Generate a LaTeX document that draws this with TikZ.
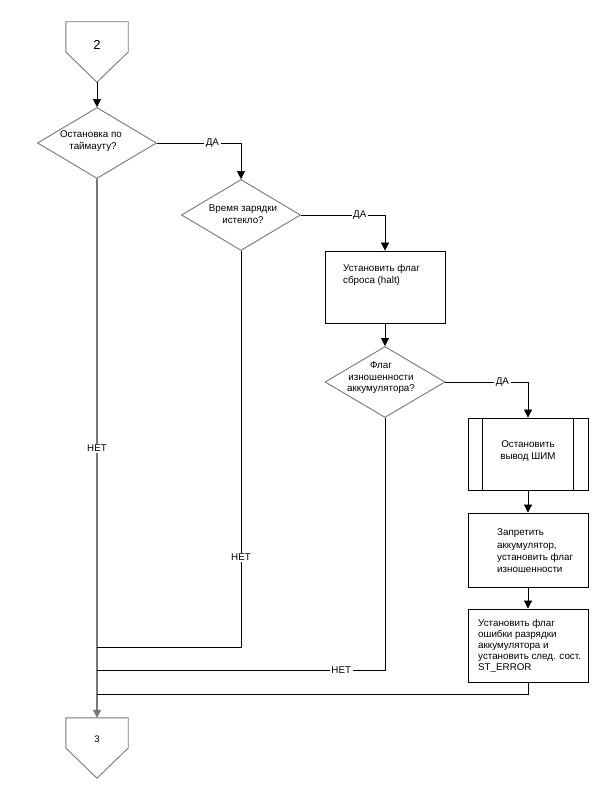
\documentclass[tikz,border=0pt]{standalone}
\usepackage{fontspec}
\setmainfont{Liberation Sans}
\usetikzlibrary{arrows.meta,calc,shapes.geometric}
\begin{document}
\begin{tikzpicture}[x=1pt,y=-1pt,
  every node/.style={font=\fontsize{9.8}{11.5}\selectfont, inner sep=0pt},
  lgray/.style={draw={rgb,255:red,120;green,120;blue,120}, line width=0.9pt},
  dec/.style={shape=diamond, lgray, minimum width=119pt, minimum height=71pt, inner sep=0pt},
  procbox/.style={shape=rectangle, draw=black, line width=0.8pt, minimum width=120pt},
  conn/.style={shape=rectangle, minimum width=62pt, minimum height=60pt},
  txt/.style={align=left},
  ctxt/.style={align=center},
  lbl/.style={fill=white, inner sep=1.5pt},
  line/.style={draw=black, line width=0.7pt},
  mainline/.style={draw={rgb,255:red,120;green,120;blue,120}, line width=1.1pt},
  arr/.style={-{Triangle[length=8pt,width=8pt]}}
]
\useasboundingbox (0,0) rectangle (600,786);
\fill[white] (0,0) rectangle (600,786);

% off-page connectors
\node[conn] (c2) at (97,52) {};
\draw[lgray] (c2.north west) -- (c2.north east) -- (c2.east) -- (c2.south) -- (c2.west) -- cycle;
\node[font=\fontsize{13}{15}\selectfont] (t2) at ([yshift=7pt]c2.center) {2};

\node[conn] (c3) at (97,748) {};
\draw[lgray] (c3.north west) -- (c3.north east) -- (c3.east) -- (c3.south) -- (c3.west) -- cycle;
\node[font=\fontsize{9.5}{11}\selectfont] (t3) at ([yshift=9pt]c3.center) {3};

% decisions
\node[dec] (d1) at (97,143) {};
\node[ctxt] (td1) at (91,141) {Остановка по\\\hspace*{4pt}таймауту?};
\node[dec] (d2) at (241,215) {};
\node[ctxt] (td2) at (243,214) {Время зарядки\\истекло?};
\node[dec, minimum width=120pt] (d3) at (385,382) {};
\node[ctxt] (td3) at (381,378) {Флаг\\изношенности\\аккумулятора?};

% process boxes
\node[procbox, minimum height=72pt] (b1) at (385,287) {};
\node[txt, anchor=west] (tb1) at (343,275) {Установить флаг\\сброса (halt)};

\node[procbox, minimum height=72pt] (b2) at (528,454) {};
\draw[line] ([xshift=15pt]b2.north west) -- ([xshift=15pt]b2.south west);
\draw[line] ([xshift=-15pt]b2.north east) -- ([xshift=-15pt]b2.south east);
\node[ctxt] (tb2) at (528,451) {Остановить\\вывод ШИМ};

\node[procbox, minimum height=74pt] (b3) at (528,550) {};
\node[txt, anchor=west, font=\fontsize{9.8}{12.3}\selectfont] (tb3) at (497,551) {Запретить\\аккумулятор,\\установить флаг\\изношенности};

\node[procbox, minimum height=73pt] (b4) at (528,645.5) {};
\node[txt, anchor=west, font=\fontsize{9.8}{11.1}\selectfont] (tb4) at (478,646) {Установить флаг\\ошибки разрядки\\аккумулятора и\\установить след. сост.\\ST\_ERROR};

% junction coordinates on the main line
\coordinate (j1) at (97,647);
\coordinate (j2) at (97,670);
\coordinate (j3) at (97,694);

% connectors
\draw[line, arr] (c2.south) -- (d1.north);
\draw[line, arr] (d1.east) -| node[lbl, pos=0.33] {ДА} (d2.north);
\draw[line, arr] (d2.east) -| node[lbl, pos=0.35] {ДА} (b1.north);
\draw[line, arr] (b1.south) -- (d3.north);
\draw[line, arr] (d3.east) -| node[lbl, pos=0.345] {ДА} (b2.north);
\draw[line, arr] (b2.south) -- (b3.north);
\draw[line, arr] (b3.south) -- (b4.north);

\draw[mainline, arr] (d1.south) -- node[lbl, pos=0.5] {НЕТ} (c3.north);
\draw[line] (d2.south) |- node[lbl, pos=0.387] {НЕТ} (j1);
\draw[line] (d3.south) |- node[lbl, pos=0.576] {НЕТ} (j2);
\draw[line] (b4.south) |- (j3);
\end{tikzpicture}
\end{document}
